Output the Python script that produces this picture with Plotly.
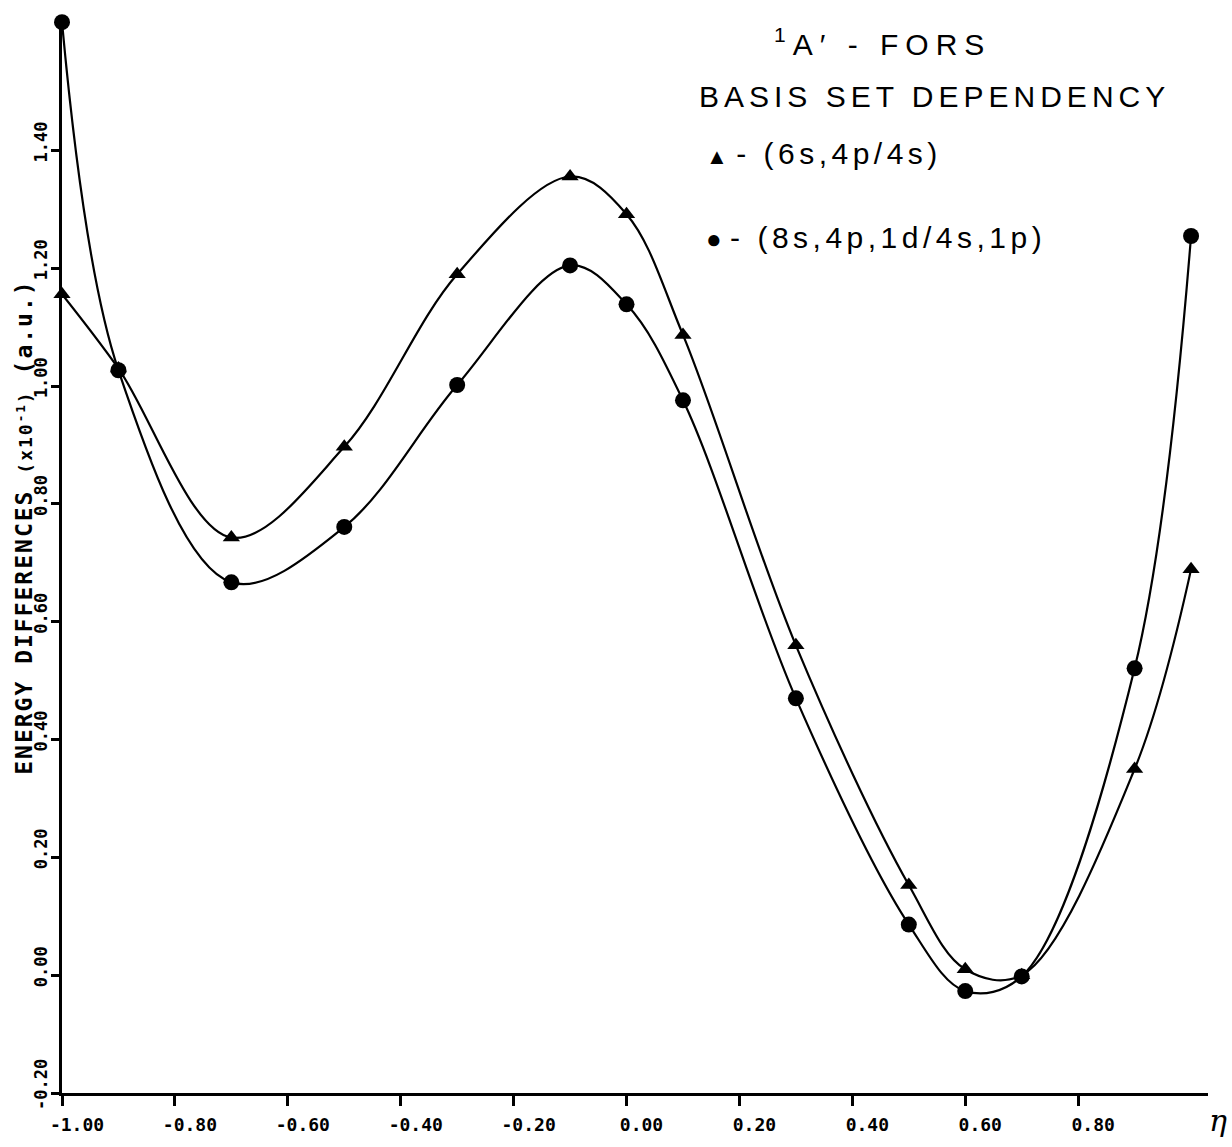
import plotly.graph_objects as go

# ---- data ----
eta_tri = [-1.0, -0.9, -0.7, -0.5, -0.3, -0.1, 0.0, 0.1, 0.3, 0.5, 0.6, 0.7, 0.9, 1.0]
e_tri = [1.156, 1.03, 0.743, 0.897, 1.19, 1.356, 1.292, 1.087, 0.56, 0.153, 0.01, 0.0, 0.35, 0.689]

eta_circ = [-1.0, -0.9, -0.7, -0.5, -0.3, -0.1, 0.0, 0.1, 0.3, 0.5, 0.6, 0.7, 0.9, 1.0]
e_circ = [1.618, 1.027, 0.667, 0.761, 1.002, 1.205, 1.139, 0.976, 0.47, 0.086, -0.027, -0.002, 0.521, 1.255]

x_ticks = [-1.0, -0.8, -0.6, -0.4, -0.2, 0.0, 0.2, 0.4, 0.6, 0.8]
x_ticktext = ["-1.00", "-0.80", "-0.60", "-0.40", "-0.20", "0.00", "0.20", "0.40", "0.60", "0.80"]
y_ticks = [-0.2, 0.0, 0.2, 0.4, 0.6, 0.8, 1.0, 1.2, 1.4]
y_ticktext = ["-0.20", "0.00", "0.20", "0.40", "0.60", "0.80", "1.00", "1.20", "1.40"]

series_names = ["(6s,4p/4s)", "(8s,4p,1d/4s,1p)"]

W, H = 1232, 1147
ML, MR, MT, MB = 62, 24, 21, 43
PW = W - ML - MR
PH = H - MT - MB


def px(xp):
    return (xp - ML) / PW


def py(yp):
    return (H - MB - yp) / PH


mono = "DejaVu Sans Mono"
sans = "Liberation Sans"

fig = go.Figure()
fig.add_trace(go.Scatter(
    x=eta_tri, y=e_tri, mode="lines+markers", name=series_names[0],
    line=dict(color="black", width=2.2, shape="spline", smoothing=1.0),
    marker=dict(symbol="triangle-up", size=15, color="black"),
    cliponaxis=False, showlegend=False))
fig.add_trace(go.Scatter(
    x=eta_circ, y=e_circ, mode="lines+markers", name=series_names[1],
    line=dict(color="black", width=2.2, shape="spline", smoothing=1.0),
    marker=dict(symbol="circle", size=16, color="black"),
    cliponaxis=False, showlegend=False))

fig.update_layout(
    width=W, height=H,
    margin=dict(l=ML, r=MR, t=MT, b=MB, pad=0),
    paper_bgcolor="white", plot_bgcolor="white",
    showlegend=False,
    xaxis=dict(
        range=[-1.0, 1.03], tickmode="array", tickvals=x_ticks, ticktext=x_ticktext,
        showgrid=False, zeroline=False, showline=True, linecolor="black", linewidth=2.5,
        ticks="outside", ticklen=10, tickwidth=2.5, tickcolor="black",
        tickfont=dict(family=mono, size=18, color="black", weight="bold"),
        ticklabelshift=15, ticklabelstandoff=4,
    ),
    yaxis=dict(
        range=[-0.2, 1.62], tickmode="array", tickvals=y_ticks, ticktext=y_ticktext,
        showgrid=False, zeroline=False, showline=True, linecolor="black", linewidth=2.5,
        ticks="outside", ticklen=8, tickwidth=2.5, tickcolor="black",
        tickangle=-90,
        tickfont=dict(family=mono, size=17, color="black", weight="bold"),
        ticklabelshift=-6, ticklabelstandoff=-3,
    ),
)

# x-axis arrow head
fig.add_annotation(x=1.035, y=-0.2, xref="x", yref="y", ax=-30, ay=0,
                   showarrow=True, arrowhead=2, arrowsize=1.6, arrowwidth=2.5,
                   arrowcolor="black", text="")
# eta label
fig.add_annotation(x=px(1218), y=py(1132), xref="paper", yref="paper",
                   text="<i>η</i>", showarrow=False,
                   font=dict(family="DejaVu Serif", size=30, color="black"),
                   xanchor="center", yanchor="middle")

# y-axis title
fig.add_annotation(x=px(24), y=py(533), xref="paper", yref="paper",
                   text="<span style='letter-spacing:2px'>ENERGY DIFFERENCES "
                        "<span style='font-size:18px'>(x10<sup>-1</sup>)</span> (a.u.)</span>",
                   textangle=-90, showarrow=False,
                   font=dict(family=mono, size=23, color="black", weight="bold"),
                   xanchor="center", yanchor="middle")

# top-right title block
fig.add_annotation(x=px(882), y=py(42), xref="paper", yref="paper",
                   text="<span style='letter-spacing:7px'><sup>1</sup>A′ - FORS</span>",
                   showarrow=False, font=dict(family=sans, size=30, color="black"),
                   xanchor="center", yanchor="middle")
fig.add_annotation(x=px(934), y=py(97), xref="paper", yref="paper",
                   text="<span style='letter-spacing:5px'>BASIS SET DEPENDENCY</span>",
                   showarrow=False, font=dict(family=sans, size=30, color="black"),
                   xanchor="center", yanchor="middle")
fig.add_annotation(x=px(704), y=py(155), xref="paper", yref="paper",
                   text="<span style='font-size:22px'>▲</span> <span style='letter-spacing:4.5px'>- "
                        + series_names[0] + "</span>",
                   showarrow=False, font=dict(family=sans, size=30, color="black"),
                   xanchor="left", yanchor="middle")
fig.add_annotation(x=px(704), y=py(240), xref="paper", yref="paper",
                   text="<span style='font-size:26px'>●</span> <span style='letter-spacing:4.5px'>- "
                        + series_names[1] + "</span>",
                   showarrow=False, font=dict(family=sans, size=30, color="black"),
                   xanchor="left", yanchor="middle")

fig.write_html("out.html")
